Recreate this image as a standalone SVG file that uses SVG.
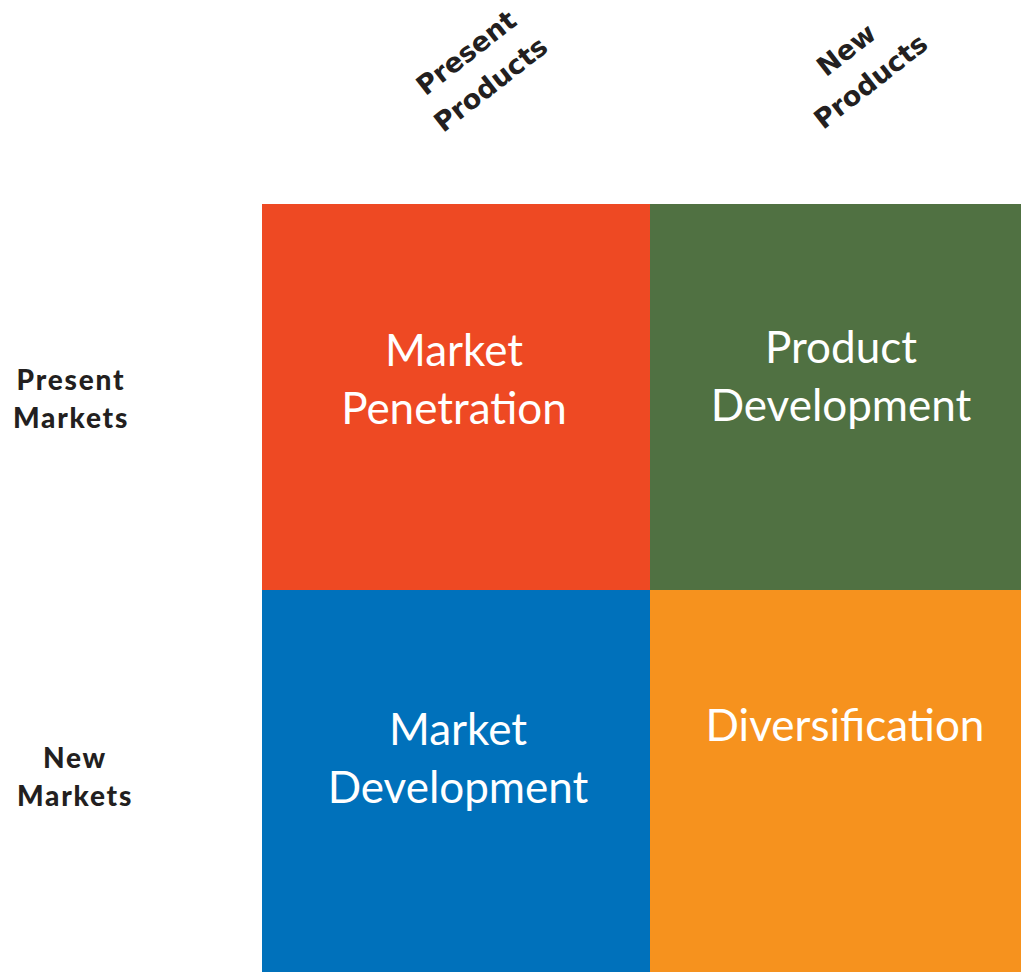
<svg xmlns="http://www.w3.org/2000/svg" width="1021" height="972" viewBox="0 0 1021 972">
  <style>
    .quad { font-family: Lato, "Open Sans", sans-serif; font-size: 44px; fill: #ffffff; text-anchor: middle; }
    .row { font-family: Lato, "Liberation Sans", sans-serif; font-weight: 900; font-size: 28px; letter-spacing: 1.8px; fill: #231f20; text-anchor: middle; }
    .col { font-family: "DejaVu Sans", Verdana, sans-serif; font-weight: bold; font-size: 27px; fill: #231f20; text-anchor: middle; }
  </style>
  <rect width="1021" height="972" fill="#ffffff"/>

  <!-- column headers, set on a diagonal -->
  <g id="col-present-products" transform="translate(478,68) rotate(-38)">
    <text class="col" x="0" y="-10">Present</text>
    <text class="col" x="0" y="30">Products</text>
  </g>
  <g id="col-new-products" transform="translate(858,65) rotate(-38)">
    <text class="col" x="0" y="-10">New</text>
    <text class="col" x="0" y="30">Products</text>
  </g>

  <!-- row headers -->
  <g id="row-present-markets">
    <text class="row" x="71" y="390">Present</text>
    <text class="row" x="71" y="428">Markets</text>
  </g>
  <g id="row-new-markets">
    <text class="row" x="75" y="768">New</text>
    <text class="row" x="75" y="806">Markets</text>
  </g>

  <!-- quadrants -->
  <g id="market-penetration">
    <rect x="262" y="204" width="388" height="386" fill="#ee4923"/>
    <text class="quad" x="454" y="366">Market</text>
    <text class="quad" x="454" y="424">Penetration</text>
  </g>
  <g id="product-development">
    <rect x="650" y="204" width="371" height="386" fill="#507142"/>
    <text class="quad" x="841" y="363">Product</text>
    <text class="quad" x="841" y="421">Development</text>
  </g>
  <g id="market-development">
    <rect x="262" y="590" width="388" height="382" fill="#0071bb"/>
    <text class="quad" x="458" y="745">Market</text>
    <text class="quad" x="458" y="803">Development</text>
  </g>
  <g id="diversification">
    <rect x="650" y="590" width="371" height="382" fill="#f6921e"/>
    <text class="quad" x="845" y="741">Diversification</text>
  </g>
</svg>
